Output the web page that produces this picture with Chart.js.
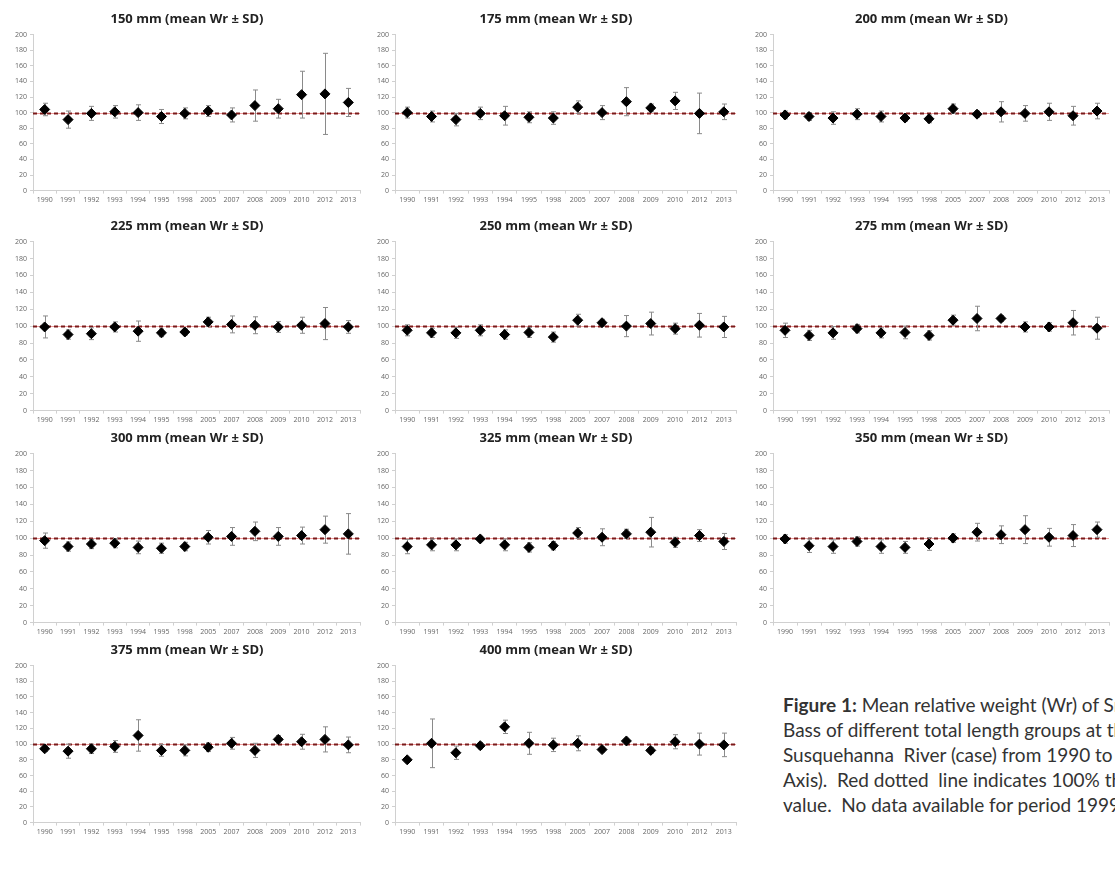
<!DOCTYPE html>
<html>
<head>
<meta charset="utf-8">
<script src="https://cdn.jsdelivr.net/npm/chart.js@4.4.1/dist/chart.umd.min.js"></script>
<style>
    html, body { margin: 0; padding: 0; background: #fff; overflow: hidden; }
    body { width: 1115px; height: 869px; position: relative; }
    .panel { position: absolute; }
    #caption {
        position: absolute; left: 783px; top: 692px;
        font-family: Lato, "Open Sans", sans-serif; font-size: 19px; line-height: 25px;
        color: #333; white-space: nowrap;
    }
</style>
</head>
<body>
<div id="caption">
    <b>Figure 1:</b> Mean relative weight (Wr) of Smallmouth<br>
    Bass of different total length groups at the<br>
    Susquehanna&nbsp; River (case) from 1990 to 2013 (X<br>
    Axis).&nbsp; Red dotted&nbsp; line indicates 100% threshold<br>
    value.&nbsp; No data available for period 1999-2004.
</div>

<script>
// Années (axe X)
const years = ["1990", "1991", "1992", "1993", "1994", "1995", "1998", "2005", "2007", "2008", "2009", "2010", "2012", "2013"];
const yTicks = [0, 20, 40, 60, 80, 100, 120, 140, 160, 180, 200];
const threshold = 100;

// Moyenne Wr et écart-type par groupe de longueur
const wr150 = [104, 91, 99, 101, 100, 95, 99, 102, 97, 109, 105, 123, 124, 113];
const sd150 = [8, 11, 9, 8, 10, 9, 7, 7, 9, 20, 12, 30, 52, 18];
const wr175 = [100, 95, 91, 99, 96, 94, 93, 107, 100, 114, 106, 115, 99, 101];
const sd175 = [7, 7, 8, 8, 12, 7, 8, 8, 9, 18, 5, 11, 26, 10];
const wr200 = [97, 95, 93, 98, 95, 93, 92, 105, 98, 101, 99, 101, 96, 102];
const sd200 = [5, 5, 8, 7, 7, 4, 5, 6, 4, 13, 10, 11, 12, 10];
const wr225 = [99, 90, 91, 99, 94, 92, 93, 105, 102, 101, 99, 101, 103, 99];
const sd225 = [13, 5.5, 7, 6, 12, 4.5, 3.5, 5.5, 10, 10, 6.5, 9.5, 19, 7.5];
const wr250 = [95, 92, 92, 95, 90, 92.5, 87, 107, 104, 100, 103, 97, 101, 99];
const sd250 = [6.5, 5.5, 6.5, 6.5, 5.5, 6, 6, 7, 4, 12.5, 13.5, 6.5, 14, 12.5];
const wr275 = [95, 89, 92, 97, 92, 92.5, 89, 107, 109, 109, 99, 99, 104, 97.5];
const sd275 = [8.5, 6, 7.5, 5, 6, 7.5, 5.5, 6, 14.5, 3.5, 6, 5, 14.5, 13];
const wr300 = [97, 90, 93, 94, 89, 88, 90, 101, 102, 108, 102, 103, 110, 105];
const sd300 = [9, 5.5, 5.5, 5.5, 7.5, 6, 5, 8, 10.5, 11, 10.5, 10, 16, 24];
const wr325 = [90, 92, 92, 99, 92, 89, 91, 106, 101, 105, 107, 95, 103, 96];
const sd325 = [8.5, 7, 7, 3, 7, 5.5, 5, 6.5, 10, 5.5, 17.5, 6, 7, 9.5];
const wr350 = [99, 91, 90, 96, 90, 89, 93, 100, 107, 104, 110, 101, 103, 110];
const sd350 = [5, 8, 8, 5.5, 8, 7, 7.5, 5, 10.5, 10.5, 16.5, 10.5, 13, 9];
const wr375 = [94, 91, 94, 97, 111, 92, 92, 96, 101, 92, 106, 103, 106, 99];
const sd375 = [3.5, 9, 6, 7.5, 20, 7.5, 7, 5.5, 7.5, 9, 5, 9.5, 16, 10];
const wr400 = [80, 101, 89, 98, 122, 101, 99, 101, 93, 104, 92, 103, 100, 99];
const sd400 = [2, 31, 8.5, 4, 8.5, 14, 8.5, 9.5, 3, 3, 3.5, 9, 14, 15];

// Titres des graphiques
const titles = ["150 mm (mean Wr ± SD)", "175 mm (mean Wr ± SD)", "200 mm (mean Wr ± SD)",
    "225 mm (mean Wr ± SD)", "250 mm (mean Wr ± SD)", "275 mm (mean Wr ± SD)",
    "300 mm (mean Wr ± SD)", "325 mm (mean Wr ± SD)", "350 mm (mean Wr ± SD)",
    "375 mm (mean Wr ± SD)", "400 mm (mean Wr ± SD)"];
const means = [wr150, wr175, wr200, wr225, wr250, wr275, wr300, wr325, wr350, wr375, wr400];
const sds = [sd150, sd175, sd200, sd225, sd250, sd275, sd300, sd325, sd350, sd375, sd400];

// Position des panneaux sur la page : [gauche, haut, largeur, hauteur]
const boxes = [
    [10, 5, 356, 203], [372, 5, 370, 203], [750, 5, 365, 203],
    [10, 212, 356, 216], [372, 212, 370, 216], [750, 212, 365, 216],
    [10, 424, 356, 216], [372, 424, 370, 216], [750, 424, 365, 216],
    [10, 636, 356, 204], [372, 636, 370, 204]
];

// Barres d'erreur (± SD) et ligne de référence à 100 %
const errorBarsPlugin = {
    id: "errorBars",
    beforeDatasetsDraw(chart, args, opts) {
        const { ctx, chartArea, scales: { x, y } } = chart;
        ctx.save();

        // Ligne pointillée rouge à 100
        const yRef = Math.round(y.getPixelForValue(threshold)) + 0.5;
        ctx.lineWidth = 1;
        ctx.strokeStyle = "rgba(230, 90, 90, 0.6)";
        ctx.beginPath();
        ctx.moveTo(chartArea.left, yRef);
        ctx.lineTo(chartArea.right, yRef);
        ctx.stroke();
        ctx.lineWidth = 2;
        ctx.strokeStyle = "#7a1a1a";
        ctx.setLineDash([4, 3]);
        ctx.beginPath();
        ctx.moveTo(chartArea.left, yRef);
        ctx.lineTo(chartArea.right, yRef);
        ctx.stroke();
        ctx.setLineDash([]);

        // Barres verticales
        ctx.strokeStyle = "#8a8a8a";
        ctx.lineWidth = 1;
        opts.sd.forEach((s, i) => {
            const m = opts.mean[i];
            const px = Math.round(x.getPixelForValue(i)) + 0.5;
            const top = y.getPixelForValue(m + s);
            const bottom = y.getPixelForValue(m - s);
            ctx.beginPath();
            ctx.moveTo(px, top);
            ctx.lineTo(px, bottom);
            ctx.moveTo(px - 2.5, top);
            ctx.lineTo(px + 2.5, top);
            ctx.moveTo(px - 2.5, bottom);
            ctx.lineTo(px + 2.5, bottom);
            ctx.stroke();
        });
        ctx.restore();
    }
};

function buildChart(index) {
    const [left, top, width, height] = boxes[index];
    const div = document.createElement("div");
    div.className = "panel";
    div.style.left = left + "px";
    div.style.top = top + "px";
    div.style.width = width + "px";
    div.style.height = height + "px";
    const canvas = document.createElement("canvas");
    div.appendChild(canvas);
    document.body.appendChild(div);

    const tickFont = { family: "'Open Sans', sans-serif", size: 7 };

    new Chart(canvas.getContext("2d"), {
        type: "line",
        data: {
            labels: years,
            datasets: [
                {
                    label: titles[index],
                    data: means[index],
                    showLine: false,
                    pointStyle: "rectRot",
                    pointRadius: 5,
                    pointBackgroundColor: "#000",
                    pointBorderColor: "#000",
                },
            ],
        },
        options: {
            responsive: true,
            maintainAspectRatio: false,
            animation: false,
            layout: { padding: { left: 2, right: 4, top: 0, bottom: 2 } },
            scales: {
                x: {
                    offset: true,
                    grid: { offset: true, drawOnChartArea: false, tickLength: 3, color: "#d0d0d0" },
                    border: { color: "#d0d0d0" },
                    ticks: { color: "#666", font: tickFont, maxRotation: 0, autoSkip: false, padding: 2 },
                },
                y: {
                    min: 0,
                    max: 200,
                    afterBuildTicks: axis => { axis.ticks = yTicks.map(v => ({ value: v })); },
                    grid: { drawOnChartArea: false, tickLength: 3, color: "#d0d0d0" },
                    border: { color: "#d0d0d0" },
                    ticks: { color: "#666", font: tickFont, padding: 3 },
                },
            },
            plugins: {
                legend: { display: false },
                tooltip: { enabled: false },
                title: {
                    display: true,
                    text: titles[index],
                    color: "#222",
                    font: { family: "'Open Sans', sans-serif", size: 13, weight: "bold" },
                    padding: { top: 6, bottom: 8 },
                },
                errorBars: { mean: means[index], sd: sds[index] },
            },
        },
        plugins: [errorBarsPlugin],
    });
}

// Création des 11 graphiques
titles.forEach((t, i) => buildChart(i));
</script>
</body>
</html>
